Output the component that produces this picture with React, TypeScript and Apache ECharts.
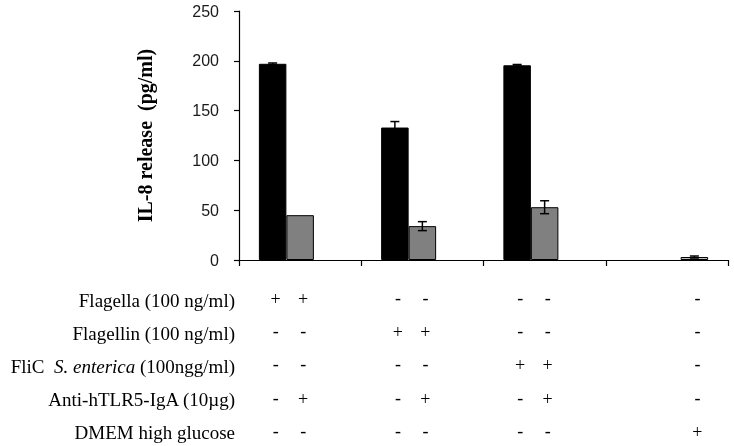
import React, { useEffect, useRef } from "react";
import * as echarts from "echarts";

const categories = ["G1", "G2", "G3", "G4"];
const blackValues: (number | string)[] = [197, 133, 195.5, "-"];
const grayValues: (number | string)[] = [45, 34, 53, "-"];
const lightValues: (number | string)[] = ["-", "-", "-", 3];
const blackErr = [0.8, 6, 0.8, 0];
const grayErr = [0, 4.5, 6.5, 0];
const lightErr = [0, 0, 0, 1];
const yTicks = { min: 0, max: 250, interval: 50 };

const rowLabels = [
  "Flagella (100 ng/ml)",
  "Flagellin (100 ng/ml)",
  "FliC",
  "Anti-hTLR5-IgA (10\u00b5g)",
  "DMEM high glucose",
];
// marks per row: for each group [black, gray, light]
const rowMarks: string[][][] = [
  [["+", "+", ""], ["-", "-", ""], ["-", "-", ""], ["", "", "-"]],
  [["-", "-", ""], ["+", "+", ""], ["-", "-", ""], ["", "", "-"]],
  [["-", "-", ""], ["-", "-", ""], ["+", "+", ""], ["", "", "-"]],
  [["-", "+", ""], ["-", "+", ""], ["-", "+", ""], ["", "", "-"]],
  [["-", "-", ""], ["-", "-", ""], ["-", "-", ""], ["", "", "+"]],
];

const BAR_W = 27.5;

export default function App() {
  const ref = useRef<HTMLDivElement>(null);
  useEffect(() => {
    if (!ref.current) return;
    const chart = echarts.init(ref.current, null, { renderer: "svg" });
    const errSeries = (vals: (number | string)[], errs: number[], idx: number) => ({
      type: "custom",
      z: 10,
      data: vals.map((v, i) => [i, v, errs[i]]).filter((d) => typeof d[1] === "number" && (d[2] as number) > 0),
      renderItem: (params: any, api: any) => {
        const i = api.value(0);
        const v = api.value(1);
        const e = api.value(2);
        const c = api.coord([i, v]);
        const top = api.coord([i, v + e]);
        const bot = api.coord([i, v - e]);
        const x = c[0] + (idx - 1) * BAR_W;
        const hw = 4.5;
        const st = { stroke: "#000", lineWidth: 1.5 };
        return {
          type: "group",
          children: [
            { type: "line", shape: { x1: x, y1: top[1], x2: x, y2: bot[1] }, style: st },
            { type: "line", shape: { x1: x - hw, y1: top[1], x2: x + hw, y2: top[1] }, style: st },
            { type: "line", shape: { x1: x - hw, y1: bot[1], x2: x + hw, y2: bot[1] }, style: st },
          ],
        };
      },
    });
    chart.setOption({
      animation: false,
      grid: { left: 239, right: 6, top: 11, bottom: 186 },
      xAxis: {
        type: "category",
        data: categories,
        axisLine: { lineStyle: { color: "#000", width: 1.2 } },
        axisTick: { show: true, length: 6, lineStyle: { color: "#000", width: 1.2 } },
        axisLabel: { show: false },
      },
      yAxis: {
        type: "value",
        min: yTicks.min,
        max: yTicks.max,
        interval: yTicks.interval,
        name: "IL-8 release  (pg/ml)",
        nameLocation: "middle",
        nameGap: 84,
        nameTextStyle: {
          fontFamily: "Liberation Serif",
          fontWeight: "bold",
          fontSize: 20,
          color: "#000",
        },
        axisLine: { show: true, lineStyle: { color: "#000", width: 1.2 } },
        axisTick: { show: true, length: 5, lineStyle: { color: "#000", width: 1.2 } },
        axisLabel: { fontFamily: "Liberation Sans", fontSize: 16, color: "#1a1a1a", margin: 20 },
        splitLine: { show: false },
      },
      series: [
        {
          type: "bar",
          data: blackValues,
          barWidth: BAR_W,
          barGap: "0%",
          itemStyle: { color: "#000", borderColor: "#000", borderWidth: 1 },
        },
        {
          type: "bar",
          data: grayValues,
          barWidth: BAR_W,
          barGap: "0%",
          itemStyle: { color: "#808080", borderColor: "#000", borderWidth: 1 },
        },
        {
          type: "bar",
          data: lightValues,
          barWidth: BAR_W,
          barGap: "0%",
          itemStyle: { color: "#c0c0c0", borderColor: "#000", borderWidth: 1 },
        },
        errSeries(blackValues, blackErr, 0),
        errSeries(grayValues, grayErr, 1),
        errSeries(lightValues, lightErr, 2),
      ],
    });

    const rowY0 = 300;
    const rowStep = 33.2;
    const labelRight = 235;
    const font = "19px 'Liberation Serif'";
    const elements: any[] = [];
    rowLabels.forEach((label, r) => {
      const y = rowY0 + r * rowStep;
      if (r === 2) {
        elements.push({
          type: "text",
          x: labelRight,
          y,
          style: {
            text: "{n|FliC  }{i|S. enterica}{n| (100ngg/ml)}",
            align: "right",
            verticalAlign: "middle",
            rich: {
              n: { fontFamily: "Liberation Serif", fontSize: 19, fill: "#000" },
              i: { fontFamily: "Liberation Serif", fontSize: 19, fontStyle: "italic", fill: "#000" },
            },
          },
        });
      } else {
        elements.push({
          type: "text",
          x: labelRight,
          y,
          style: { text: label, font, fill: "#000", align: "right", verticalAlign: "middle" },
        });
      }
      rowMarks[r].forEach((group, g) => {
        const cx = chart.convertToPixel({ xAxisIndex: 0 }, g) as number;
        group.forEach((m, s) => {
          if (!m) return;
          elements.push({
            type: "text",
            x: cx + (s - 1) * BAR_W + 3,
            y: m === "-" ? y - 2 : y - 1,
            style: { text: m, font: "18px 'Liberation Serif'", fill: "#000", align: "center", verticalAlign: "middle" },
          });
        });
      });
    });
    chart.setOption({ graphic: elements });
    return () => chart.dispose();
  }, []);
  return <div ref={ref} style={{ position: "fixed", left: 0, top: 0, width: 734, height: 446 }} />;
}
